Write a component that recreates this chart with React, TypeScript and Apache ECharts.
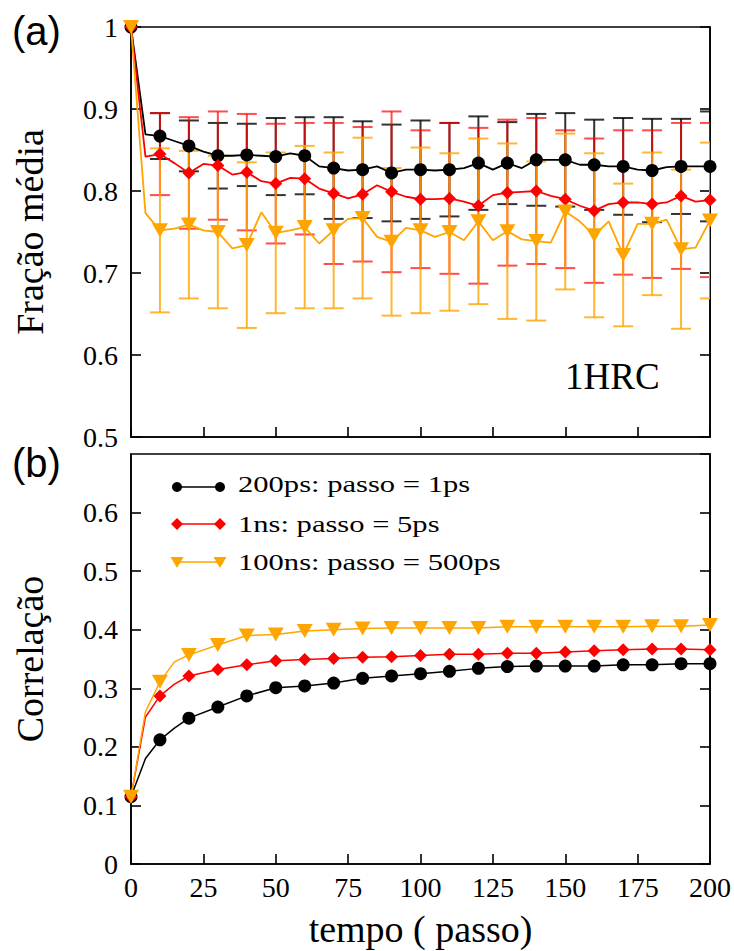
import React, { useEffect, useRef } from "react";
import * as echarts from "echarts";

// ---------- data ----------
const stepsTop = [0, 5, 10, 15, 20, 25, 30, 35, 40, 45, 50, 55, 60, 65, 70, 75, 80, 85, 90, 95, 100, 105, 110, 115, 120, 125, 130, 135, 140, 145, 150, 155, 160, 165, 170, 175, 180, 185, 190, 195, 200];
const fracBlack = [1, 0.869, 0.867, 0.861, 0.855, 0.848, 0.843, 0.843, 0.844, 0.843, 0.842, 0.846, 0.843, 0.830, 0.828, 0.825, 0.826, 0.830, 0.822, 0.826, 0.826, 0.825, 0.826, 0.828, 0.834, 0.826, 0.834, 0.828, 0.838, 0.838, 0.838, 0.832, 0.832, 0.830, 0.830, 0.826, 0.825, 0.829, 0.830, 0.830, 0.830];
const fracRed = [1, 0.842, 0.845, 0.834, 0.822, 0.833, 0.831, 0.820, 0.823, 0.812, 0.809, 0.816, 0.815, 0.803, 0.797, 0.791, 0.796, 0.807, 0.799, 0.793, 0.790, 0.790, 0.791, 0.787, 0.782, 0.795, 0.798, 0.799, 0.800, 0.794, 0.790, 0.782, 0.776, 0.784, 0.786, 0.786, 0.784, 0.786, 0.794, 0.787, 0.789];
const fracOrange = [1, 0.773, 0.752, 0.754, 0.759, 0.752, 0.750, 0.730, 0.734, 0.774, 0.749, 0.752, 0.756, 0.736, 0.752, 0.766, 0.767, 0.744, 0.738, 0.755, 0.752, 0.744, 0.750, 0.740, 0.763, 0.740, 0.751, 0.741, 0.739, 0.737, 0.775, 0.763, 0.746, 0.763, 0.722, 0.760, 0.760, 0.765, 0.729, 0.731, 0.764];

// error bars at steps 10, 20, ..., 200
const errSteps = [10, 20, 30, 40, 50, 60, 70, 80, 90, 100, 110, 120, 130, 140, 150, 160, 170, 180, 190, 200];
const errBlack = [0.028, 0.031, 0.040, 0.038, 0.047, 0.047, 0.062, 0.059, 0.059, 0.060, 0.057, 0.057, 0.050, 0.056, 0.057, 0.055, 0.059, 0.063, 0.058, 0.067];
const errRed = [0.050, 0.068, 0.066, 0.071, 0.073, 0.068, 0.086, 0.082, 0.098, 0.084, 0.092, 0.095, 0.089, 0.089, 0.084, 0.088, 0.088, 0.090, 0.089, 0.094];
const errOrange = [0.100, 0.090, 0.093, 0.101, 0.098, 0.099, 0.095, 0.098, 0.090, 0.101, 0.096, 0.101, 0.107, 0.097, 0.095, 0.100, 0.087, 0.087, 0.097, 0.095];

const stepsBottom = [0, 5, 10, 15, 20, 30, 40, 50, 60, 70, 80, 90, 100, 110, 120, 130, 140, 150, 160, 170, 180, 190, 200];
const corrBlack = [0.115, 0.180, 0.212, 0.232, 0.249, 0.268, 0.287, 0.301, 0.304, 0.309, 0.317, 0.321, 0.325, 0.329, 0.334, 0.337, 0.338, 0.338, 0.338, 0.340, 0.340, 0.342, 0.342];
const corrRed = [0.115, 0.251, 0.287, 0.307, 0.321, 0.332, 0.340, 0.347, 0.349, 0.351, 0.353, 0.354, 0.356, 0.358, 0.358, 0.360, 0.360, 0.362, 0.364, 0.366, 0.367, 0.367, 0.366];
const corrOrange = [0.115, 0.260, 0.311, 0.345, 0.357, 0.374, 0.390, 0.392, 0.398, 0.400, 0.402, 0.403, 0.403, 0.403, 0.403, 0.405, 0.405, 0.405, 0.405, 0.405, 0.406, 0.406, 0.408];

const seriesNames = ["200ps: passo = 1ps", "1ns: passo = 5ps", "100ns: passo = 500ps"];
const topTicks = { min: 0.5, max: 1, interval: 0.1 };
const bottomTicks = { min: 0, max: 0.7, interval: 0.1 };
const xTicks = { min: 0, max: 200, interval: 25 };

// ---------- styles ----------
const SERIF = "'Liberation Serif', 'Times New Roman', serif";
const SANS = "'Liberation Sans', Arial, sans-serif";
const BLACK = "#000000";
const RED = "#ff0000";
const ORANGE = "#ffa500";

const markers = [
  { color: BLACK, symbol: "circle", size: 13, rotate: 0 },
  { color: RED, symbol: "diamond", size: 13, rotate: 0 },
  { color: ORANGE, symbol: "triangle", size: [16, 14], rotate: 180 },
];

function pairs(xs: number[], ys: number[]) {
  return xs.map((x, i) => [x, ys[i]]);
}

function errData(values: number[], errs: number[]) {
  return errSteps.map((s, i) => {
    const idx = stepsTop.indexOf(s);
    return [s, values[idx], errs[i]];
  });
}

function errorSeries(data: number[][], color: string, opacity: number, z: number) {
  return {
    type: "custom",
    xAxisIndex: 0,
    yAxisIndex: 0,
    clip: true,
    z,
    silent: true,
    data,
    renderItem: (params: any, api: any) => {
      const x = api.value(0);
      const y = api.value(1);
      const e = api.value(2);
      const t = api.coord([x, y + e]);
      const b = api.coord([x, y - e]);
      const hw = 10;
      const style = { stroke: color, lineWidth: 2, opacity };
      return {
        type: "group",
        children: [
          { type: "line", shape: { x1: t[0], y1: t[1], x2: b[0], y2: b[1] }, style },
          { type: "line", shape: { x1: t[0] - hw, y1: t[1], x2: t[0] + hw, y2: t[1] }, style },
          { type: "line", shape: { x1: b[0] - hw, y1: b[1], x2: b[0] + hw, y2: b[1] }, style },
        ],
      };
    },
  };
}

function lineSeries(name: string, data: number[][], k: number, xi: number, yi: number, width: number) {
  const m = markers[k];
  return {
    name,
    type: "line",
    xAxisIndex: xi,
    yAxisIndex: yi,
    data,
    z: 5 + k,
    showAllSymbol: true,
    symbol: m.symbol,
    symbolRotate: m.rotate,
    symbolSize: (v: number[]) => (v[0] === 5 || v[0] === 15 || (v[0] % 10 !== 0) ? 0 : m.size),
    lineStyle: { color: m.color, width },
    itemStyle: { color: m.color, borderWidth: 0 },
    emphasis: { disabled: true },
  };
}

function fmt(v: number) {
  return String(Math.round(v * 10) / 10);
}

const axisLineStyle = { color: BLACK, width: 1.6 };
const tickLabel = { fontFamily: SERIF, fontSize: 28, color: BLACK };
const nameStyle = { fontFamily: SERIF, fontSize: 38, color: BLACK };

function legendGraphics() {
  const rows = [
    { y: 484, my: 487, k: 0 },
    { y: 524, my: 524, k: 1 },
    { y: 562, my: 562, k: 2 },
  ];
  const els: any[] = [];
  rows.forEach((r) => {
    const c = markers[r.k].color;
    const x1 = 177;
    const x2 = 220;
    els.push({ type: "line", shape: { x1, y1: r.my, x2, y2: r.my }, style: { stroke: c, lineWidth: 1.6 } });
    [x1, x2].forEach((cx) => {
      if (r.k === 0) {
        els.push({ type: "circle", shape: { cx, cy: r.my, r: 5 }, style: { fill: c } });
      } else if (r.k === 1) {
        els.push({ type: "polygon", shape: { points: [[cx, r.my - 6], [cx + 6, r.my], [cx, r.my + 6], [cx - 6, r.my]] }, style: { fill: c } });
      } else {
        els.push({ type: "polygon", shape: { points: [[cx - 6.5, r.my - 5], [cx + 6.5, r.my - 5], [cx, r.my + 6]] }, style: { fill: c } });
      }
    });
    els.push({
      type: "text",
      x: 238,
      y: r.y,
      scaleX: 1.33,
      style: { text: seriesNames[r.k], fontFamily: SERIF, fontSize: 23, fill: BLACK, align: "left", verticalAlign: "middle" },
    });
  });
  return els;
}

export default function App() {
  const ref = useRef<HTMLDivElement>(null);
  useEffect(() => {
    if (!ref.current) return;
    const chart = echarts.init(ref.current, undefined, { renderer: "svg" });
    const option: any = {
      animation: false,
      backgroundColor: "#ffffff",
      grid: [
        { left: 131, right: 24, top: 27, height: 410, show: true, borderColor: BLACK, borderWidth: 1.6, backgroundColor: "transparent" },
        { left: 131, right: 24, top: 454, height: 410, show: true, borderColor: BLACK, borderWidth: 1.6, backgroundColor: "transparent" },
      ],
      xAxis: [
        {
          gridIndex: 0, type: "value", ...xTicks,
          axisLine: { lineStyle: axisLineStyle },
          axisTick: { inside: true, length: 10, lineStyle: axisLineStyle },
          axisLabel: { show: false },
          splitLine: { show: false },
        },
        {
          gridIndex: 1, type: "value", ...xTicks,
          axisLine: { lineStyle: axisLineStyle },
          axisTick: { inside: true, length: 10, lineStyle: axisLineStyle },
          axisLabel: { ...tickLabel, margin: 9 },
          splitLine: { show: false },
          name: "tempo ( passo)", nameLocation: "middle", nameGap: 46, nameTextStyle: nameStyle,
        },
      ],
      yAxis: [
        {
          gridIndex: 0, type: "value", ...topTicks,
          axisLine: { show: true, lineStyle: axisLineStyle },
          axisTick: { inside: true, length: 10, lineStyle: axisLineStyle },
          axisLabel: { ...tickLabel, margin: 13, formatter: fmt },
          splitLine: { show: false },
          name: "Fração média", nameLocation: "middle", nameGap: 82, nameTextStyle: nameStyle,
        },
        {
          gridIndex: 0, type: "value", position: "right", ...topTicks,
          axisLine: { show: true, lineStyle: axisLineStyle },
          axisTick: { inside: true, length: 10, lineStyle: axisLineStyle },
          axisLabel: { show: false },
          splitLine: { show: false },
        },
        {
          gridIndex: 1, type: "value", ...bottomTicks,
          axisLine: { show: true, lineStyle: axisLineStyle },
          axisTick: { inside: true, length: 10, lineStyle: axisLineStyle },
          axisLabel: { ...tickLabel, margin: 13, formatter: fmt, showMaxLabel: false },
          splitLine: { show: false },
          name: "Correlação", nameLocation: "middle", nameGap: 82, nameTextStyle: nameStyle,
        },
        {
          gridIndex: 1, type: "value", position: "right", ...bottomTicks,
          axisLine: { show: true, lineStyle: axisLineStyle },
          axisTick: { inside: true, length: 10, lineStyle: axisLineStyle },
          axisLabel: { show: false },
          splitLine: { show: false },
        },
      ],
      series: [
        errorSeries(errData(fracBlack, errBlack), BLACK, 0.8, 1),
        errorSeries(errData(fracRed, errRed), RED, 0.7, 2),
        errorSeries(errData(fracOrange, errOrange), ORANGE, 0.8, 3),
        lineSeries(seriesNames[0], pairs(stepsTop, fracBlack), 0, 0, 0, 1.8),
        lineSeries(seriesNames[1], pairs(stepsTop, fracRed), 1, 0, 0, 1.8),
        lineSeries(seriesNames[2], pairs(stepsTop, fracOrange), 2, 0, 0, 1.8),
        lineSeries(seriesNames[0], pairs(stepsBottom, corrBlack), 0, 1, 2, 1.5),
        lineSeries(seriesNames[1], pairs(stepsBottom, corrRed), 1, 1, 2, 1.5),
        lineSeries(seriesNames[2], pairs(stepsBottom, corrOrange), 2, 1, 2, 1.5),
      ],
      graphic: [
        { type: "text", x: 12, y: 31, style: { text: "(a)", fontFamily: SANS, fontSize: 40, fill: BLACK, align: "left", verticalAlign: "middle" } },
        { type: "text", x: 12, y: 463, style: { text: "(b)", fontFamily: SANS, fontSize: 40, fill: BLACK, align: "left", verticalAlign: "middle" } },
        { type: "text", x: 565, y: 376, style: { text: "1HRC", fontFamily: SERIF, fontSize: 37, fill: BLACK, align: "left", verticalAlign: "middle" } },
        ...legendGraphics(),
      ],
    };
    chart.setOption(option);
    return () => chart.dispose();
  }, []);
  return <div ref={ref} style={{ position: "absolute", left: 0, top: 0, width: 734, height: 951 }} />;
}
